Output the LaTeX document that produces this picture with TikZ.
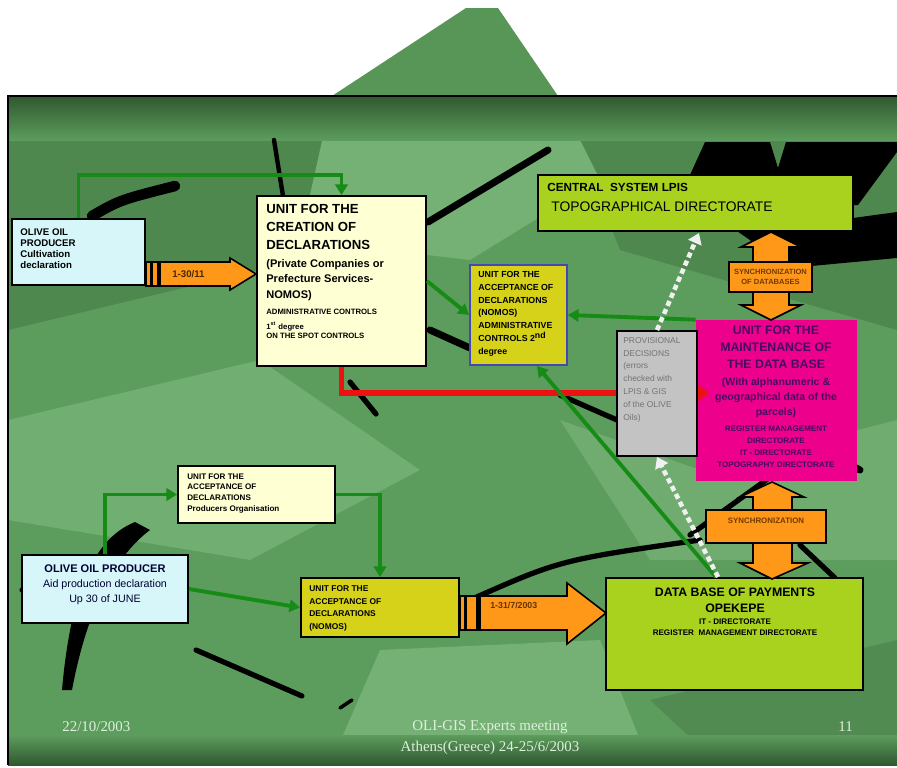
\documentclass[tikz,border=0pt]{standalone}
\usepackage{fontspec}
\setmainfont{Liberation Sans}
\newfontfamily\footfont{Liberation Serif}
\usetikzlibrary{fit,arrows.meta,calc}

\definecolor{slidegreen}{RGB}{92,156,92}
\definecolor{darkgreen}{RGB}{48,88,48}
\definecolor{lightpatch}{RGB}{128,186,128}
\definecolor{peakgreen}{RGB}{88,150,88}
\definecolor{linegreen}{RGB}{22,140,22}
\definecolor{cyanbox}{RGB}{214,246,250}
\definecolor{creambox}{RGB}{255,255,212}
\definecolor{olivebox}{RGB}{214,210,26}
\definecolor{limebox}{RGB}{168,210,30}
\definecolor{graybox}{RGB}{195,195,195}
\definecolor{orangearrow}{RGB}{255,152,24}
\definecolor{redline}{RGB}{236,18,18}
\definecolor{purpletext}{RGB}{70,10,100}
\definecolor{foottext}{RGB}{222,240,222}

\newcommand{\fs}[2]{\fontsize{#1}{#2}\selectfont}

\begin{document}
\begin{tikzpicture}[x=0.02cm,y=-0.02cm,
  box/.style={draw=black, line width=1.1pt, inner sep=0pt},
  txt/.style={anchor=north west, inner sep=0pt, align=left, text=black},
  ctxt/.style={anchor=north, inner sep=0pt, align=center, text=black},
  gline/.style={draw=linegreen, line width=2.2pt, -{Triangle[length=6pt,width=7pt]}},
  rline/.style={draw=redline, line width=3.2pt, -{Triangle[length=7pt,width=10pt]}},
  wdash/.style={draw=white!88!gray, line width=2.6pt, dash pattern=on 3pt off 2pt, -{Triangle[length=6pt,width=8pt]}},
  swoosh/.style={draw=black, line cap=round},
  orangeshape/.style={fill=orangearrow, draw=black, line width=0.9pt, line join=miter}
]
\useasboundingbox (0,0) rectangle (897,768);
\fill[white] (0,0) rectangle (897,768);

% ---------- slide background ----------
\fill[peakgreen] (466,8) -- (498,8) -- (558,96) -- (332,96) -- cycle;
\fill[slidegreen] (8,96) rectangle (897,765);
\fill[darkgreen!30!slidegreen] (8,96) -- (332,96) -- (300,260) -- (8,330) -- cycle;
\fill[darkgreen!30!slidegreen] (560,96) -- (897,96) -- (897,330) -- (620,250) -- cycle;
\fill[lightpatch!70!slidegreen] (332,96) -- (558,96) -- (600,180) -- (470,260) -- (300,240) -- cycle;
\fill[lightpatch!60!slidegreen] (8,420) -- (260,360) -- (420,470) -- (250,560) -- (8,520) -- cycle;
\fill[lightpatch!70!slidegreen] (330,765) -- (380,650) -- (600,640) -- (650,765) -- cycle;
\fill[lightpatch!55!slidegreen] (560,420) -- (700,470) -- (897,420) -- (897,560) -- (650,560) -- cycle;
\fill[darkgreen!25!slidegreen] (650,700) -- (897,640) -- (897,765) -- (720,765) -- cycle;
\shade[top color=darkgreen, bottom color=slidegreen] (8,96) rectangle (897,140);
\shade[top color=slidegreen, bottom color=darkgreen] (8,735) rectangle (897,765);
\draw[black, line width=1pt] (897,96) -- (8,96) -- (8,765);

% ---------- black swooshes ----------
\draw[swoosh, line width=6pt] (92,216) .. controls (120,200) .. (175,186);
\draw[swoosh, line width=2.5pt] (274,140) -- (283,196);
\draw[swoosh, line width=4pt] (428,222) -- (548,150);
\draw[swoosh, line width=4pt] (430,330) -- (470,348);
\draw[swoosh, line width=3pt] (350,382) -- (376,414);
\draw[swoosh, line width=3pt] (560,395) -- (617,420);
% dark band behind the central system box
\fill[black] (705,142) -- (770,142) -- (778,168) -- (786,142) -- (897,142) -- (897,152) -- (858,205) -- (853,205) -- (853,175) -- (690,175) -- cycle;
\fill[black] (853,218) -- (897,212) -- (897,258) -- (790,268) -- (747,238) -- (737,231) -- (853,231) -- cycle;
\draw[swoosh, line width=4pt] (697,390) -- (860,470);
\draw[swoosh, line width=3pt] (470,600) .. controls (560,560) .. (700,540);
\draw[swoosh, line width=3pt] (690,535) -- (780,470);
\draw[swoosh, line width=3pt] (800,545) -- (835,578);
\fill[black] (62,690) .. controls (70,600) and (90,540) .. (135,522) -- (150,530) .. controls (110,560) and (85,620) .. (72,690) -- cycle;
\draw[swoosh, line width=3pt] (196,650) -- (302,696);
\draw[swoosh, line width=2pt] (340,708) -- (352,700);
\draw[swoosh, line width=3pt] (55,575) -- (22,590);

\coordinate (redturn) at (343,393);
\coordinate (redend) at (709,393);

% ---------- boxes ----------
\node[box, fill=cyanbox, fit={(12,219) (145,285)}] (b1) {};
\node[box, fill=creambox, fit={(257,196) (426,366)}] (b3) {};
\node[box, fill=olivebox, draw=blue!45!gray, fit={(470,265) (567,365)}] (b5) {};
\node[box, fill=limebox, fit={(538,175) (853,231)}] (cs) {};
\node[inner sep=0pt, fill=magenta, fit={(696,320) (857,481)}] (mg) {};
\node[box, fill=creambox, fit={(178,466) (335,523)}] (b16) {};
\node[box, fill=cyanbox, fit={(22,555) (188,623)}] (b17) {};
\node[box, fill=olivebox, fit={(301,578) (459,637)}] (b20) {};
\node[box, fill=limebox, fit={(606,578) (863,690)}] (db) {};

% red path runs behind the grey box, its head shows on the magenta box
\draw[rline] (b3.south) -- (b3.south |- redturn) -- (redend);
\node[box, fill=graybox, fit={(617,331) (697,456)}] (gr) {};

% ---------- green connectors ----------
\draw[gline] (b1.north) -- (b1.north |- 0,175) -| (b3.north);
\draw[gline] (b3.east) -- (b5.west);
\draw[gline] (mg.north west) -- (b5.east);
\draw[gline] (db.north west -| 716,0) -- (537,366);
\draw[gline] (b17.north) -- (b17.north |- b16.west) -- (b16.west);
\draw[gline] (b16.east) -| (b20.north);
\draw[gline] (b17.east) -- (b20.west);

% ---------- dashed light arrows ----------
\draw[wdash] (gr.north) -- (699,233);
\draw[wdash] (db.north west -| 718,0) -- (gr.south);

% ---------- orange arrows ----------
\draw[orangeshape] (146,262) -- (230,262) -- (230,258) -- (256,274) -- (230,290) -- (230,286) -- (146,286) -- cycle;
\fill[black] (150,262) rectangle (153,286);
\fill[black] (157,262) rectangle (161,286);
\node[anchor=west, inner sep=0pt, font=\fs{5.5}{6}\bfseries, text=black!70!orange] (l1) at (172,274) {1-30/11};

\draw[orangeshape] (460,596) -- (567,596) -- (567,583) -- (606,613) -- (567,644) -- (567,630) -- (460,630) -- cycle;
\fill[black] (464,596) rectangle (467,630);
\fill[black] (476,596) rectangle (481,630);
\node[anchor=west, inner sep=0pt, font=\fs{5}{6}\bfseries, text=black!60!orange] (l2) at (490,605) {1-31/7/2003};

% upper synchronisation cross
\draw[orangeshape] (771,232) -- (801,247) -- (789,247) -- (789,305) -- (801,305) -- (771,320) -- (741,305) -- (753,305) -- (753,247) -- (741,247) -- cycle;
\node[orangeshape, inner sep=0pt, fit={(729,262) (812,292)}] (sync1) {};
\node[inner sep=0pt, align=center, font=\fs{4.3}{5.8}\bfseries, text=black!55!orange] at (sync1.center) {SYNCHRONIZATION\\OF DATABASES};

% lower synchronisation cross
\draw[orangeshape] (772,482) -- (804,497) -- (792,497) -- (792,563) -- (808,563) -- (772,579) -- (740,563) -- (753,563) -- (753,497) -- (740,497) -- cycle;
\node[orangeshape, inner sep=0pt, fit={(706,510) (826,543)}] (sync2) {};
\node[inner sep=0pt, font=\fs{4.5}{5}\bfseries, text=black!55!orange] at ($(sync2.center)+(0,-6)$) {SYNCHRONIZATION};

% ---------- box texts ----------
\node[txt, font=\fs{5.5}{6.3}\bfseries] at (20,228) {OLIVE OIL\\PRODUCER\\Cultivation\\declaration};

\node[txt, font=\fs{7.5}{10.2}\bfseries] at (266,204) {UNIT FOR THE\\CREATION OF\\DECLARATIONS};
\node[txt, font=\fs{6.3}{8.8}\bfseries] at (266,259) {(Private Companies or\\Prefecture Services-\\NOMOS)};
\node[txt, font=\fs{4.4}{5.2}\bfseries] at (266,309) {ADMINISTRATIVE CONTROLS};
\node[txt, font=\fs{4.4}{5.2}\bfseries] at (266,322) {1\textsuperscript{st} degree\\ON THE SPOT CONTROLS};

\node[txt, font=\fs{5}{7.3}\bfseries] at (478,271) {UNIT FOR THE\\ACCEPTANCE OF\\DECLARATIONS\\(NOMOS)\\ADMINISTRATIVE\\CONTROLS 2\textsuperscript{nd}\\degree};

\node[txt, font=\fs{6.7}{8}\bfseries] at (547,183) {CENTRAL\ \ SYSTEM LPIS};
\node[txt, font=\fs{7.9}{9}] at (551,201) {TOPOGRAPHICAL DIRECTORATE};

\node[txt, text=black!55, font=\fs{4.8}{7.3}] at (623,337) {PROVISIONAL\\DECISIONS\\(errors\\checked with\\LPIS \& GIS\\of the OLIVE\\Oils)};

\node[ctxt, text=purpletext, font=\fs{7}{9.6}\bfseries] at (776,326) {UNIT FOR THE\\MAINTENANCE OF\\THE DATA BASE};
\node[ctxt, text=purpletext, font=\fs{6}{8.4}\bfseries] at (776,378) {(With alphanumeric \&\\geographical data of the\\parcels)};
\node[ctxt, text=purpletext, font=\fs{4.6}{7}\bfseries] at (776,425) {REGISTER MANAGEMENT\\DIRECTORATE\\IT - DIRECTORATE\\TOPOGRAPHY DIRECTORATE};

\node[txt, font=\fs{4.6}{6.2}\bfseries] at (187,473) {UNIT FOR THE\\ACCEPTANCE OF\\DECLARATIONS\\Producers Organisation};

\node[ctxt, text=black!80!blue, font=\fs{6.3}{8.5}\bfseries] at (105,564) {OLIVE OIL PRODUCER};
\node[ctxt, text=black!80!blue, font=\fs{6.1}{8.5}] at (105,579) {Aid production declaration\\Up 30 of JUNE};

\node[txt, font=\fs{4.8}{7.3}\bfseries] at (309,585) {UNIT FOR THE\\ACCEPTANCE OF\\DECLARATIONS\\(NOMOS)};

\node[ctxt, font=\fs{7}{8.6}\bfseries] at (735,588) {DATA BASE OF PAYMENTS\\OPEKEPE};
\node[ctxt, font=\fs{4.6}{6.8}\bfseries] at (735,618) {IT - DIRECTORATE\\REGISTER\ \ MANAGEMENT DIRECTORATE};

% ---------- footer ----------
\node[anchor=west, inner sep=0pt, text=foottext, font=\footfont\fs{8.5}{10}] (date) at (62,727) {22/10/2003};
\node[anchor=center, inner sep=0pt, align=center, text=foottext, font=\footfont\fs{8.5}{12}] (meet) at (490,738) {OLI-GIS Experts meeting\\Athens(Greece) 24-25/6/2003};
\node[anchor=west, inner sep=0pt, text=foottext, font=\footfont\fs{8.5}{10}] (page) at (838,727) {11};
\end{tikzpicture}
\end{document}
